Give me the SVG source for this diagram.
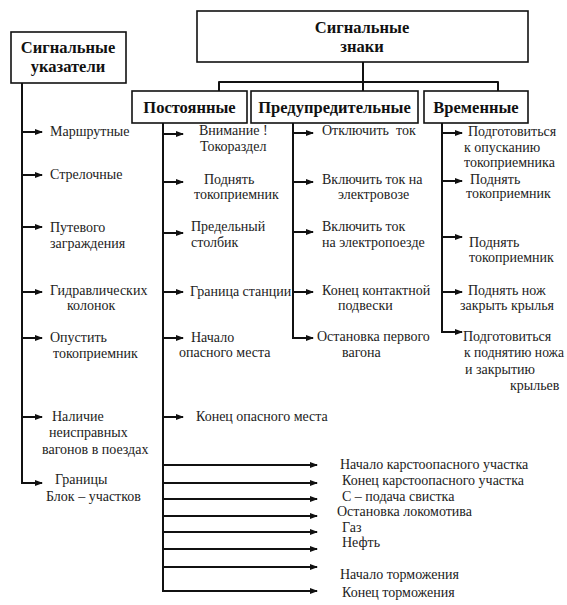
<svg xmlns="http://www.w3.org/2000/svg" width="567" height="605" viewBox="0 0 567 605" font-family="Liberation Serif, Times New Roman, serif">
<style>
.box{fill:#fff;stroke:#111;stroke-width:1.6}
.hd{font-size:16.5px;font-weight:bold;fill:#111;text-anchor:middle}
.t{font-size:14px;fill:#222}
.ln{fill:none;stroke:#111;stroke-width:2;stroke-linejoin:round}
.ar{fill:none;stroke:#111;stroke-width:2;marker-end:url(#ah)}
</style>
<defs>
<marker id="ah" viewBox="0 0 8 6" refX="7" refY="3" markerWidth="8" markerHeight="6" markerUnits="userSpaceOnUse" orient="auto">
<path d="M0,0 L8,3 L0,6 z" fill="#111"/>
</marker>
</defs>
<rect width="567" height="605" fill="#fff"/>

<g id="connectors">
<path class="ln" d="M363,62 V91"/>
<path class="ln" d="M219,91 V82 H498 V91"/>
<path class="ar" d="M22,83 V483 H42"/>
<path class="ar" d="M22,132 H42"/>
<path class="ar" d="M22,175 H42"/>
<path class="ar" d="M22,227 H42"/>
<path class="ar" d="M22,292 H42"/>
<path class="ar" d="M22,338 H42"/>
<path class="ar" d="M22,417 H42"/>
<path class="ar" d="M163,123 V591 H317"/>
<path class="ar" d="M163,134 H183"/>
<path class="ar" d="M163,182 H183"/>
<path class="ar" d="M163,233 H183"/>
<path class="ar" d="M163,292 H183"/>
<path class="ar" d="M163,338 H183"/>
<path class="ar" d="M163,417 H183"/>
<path class="ar" d="M163,465 H317"/>
<path class="ar" d="M163,483 H317"/>
<path class="ar" d="M163,499 H317"/>
<path class="ar" d="M163,516 H317"/>
<path class="ar" d="M163,532 H317"/>
<path class="ar" d="M163,549 H317"/>
<path class="ar" d="M163,567 H317"/>
<path class="ar" d="M293,123 V338 H313"/>
<path class="ar" d="M293,133 H313"/>
<path class="ar" d="M293,182 H313"/>
<path class="ar" d="M293,232 H313"/>
<path class="ar" d="M293,292 H313"/>
<path class="ar" d="M442,123 V332 H462"/>
<path class="ar" d="M442,133 H462"/>
<path class="ar" d="M442,181 H462"/>
<path class="ar" d="M442,237 H462"/>
<path class="ar" d="M442,292 H462"/>
</g>

<g id="node-znaki">
<rect class="box" x="197" y="11" width="331" height="51"/>
<text class="hd" x="362" y="33">Сигнальные</text>
<text class="hd" x="362" y="52">знаки</text>
</g>
<g id="node-ukazateli">
<rect class="box" x="11" y="32" width="115" height="51"/>
<text class="hd" x="68" y="53">Сигнальные</text>
<text class="hd" x="68" y="72">указатели</text>
</g>
<g id="node-postoyannye">
<rect class="box" x="132" y="91" width="115" height="32"/>
<text class="hd" x="189.5" y="113">Постоянные</text>
</g>
<g id="node-predupreditelnye">
<rect class="box" x="251" y="91" width="167" height="32"/>
<text class="hd" x="334.5" y="113">Предупредительные</text>
</g>
<g id="node-vremennye">
<rect class="box" x="424" y="91" width="104" height="32"/>
<text class="hd" x="476" y="113">Временные</text>
</g>

<g id="items-left">
<text class="t" x="50" y="136">Маршрутные</text>
<text class="t" x="50" y="179">Стрелочные</text>
<text class="t" x="50" y="232">Путевого</text>
<text class="t" x="50" y="248">заграждения</text>
<text class="t" x="50" y="295">Гидравлических</text>
<text class="t" x="67" y="310">колонок</text>
<text class="t" x="50" y="342">Опустить</text>
<text class="t" x="53" y="358">токоприемник</text>
<text class="t" x="52" y="421">Наличие</text>
<text class="t" x="49" y="437">неисправных</text>
<text class="t" x="42" y="454">вагонов в поездах</text>
<text class="t" x="55" y="484">Границы</text>
<text class="t" x="46" y="501">Блок – участков</text>
</g>

<g id="items-postoyannye">
<text class="t" x="199" y="135">Внимание !</text>
<text class="t" x="200" y="151">Токораздел</text>
<text class="t" x="204" y="184">Поднять</text>
<text class="t" x="194" y="199">токоприемник</text>
<text class="t" x="191" y="231">Предельный</text>
<text class="t" x="191" y="247">столбик</text>
<text class="t" x="190" y="296">Граница станции</text>
<text class="t" x="191" y="342">Начало</text>
<text class="t" x="179" y="357">опасного места</text>
<text class="t" x="196" y="421">Конец опасного места</text>
</g>

<g id="items-predupreditelnye">
<text class="t" x="322" y="135" xml:space="preserve">Отключить  ток</text>
<text class="t" x="322" y="184">Включить ток на</text>
<text class="t" x="338" y="199">электровозе</text>
<text class="t" x="322" y="231">Включить ток</text>
<text class="t" x="322" y="247">на электропоезде</text>
<text class="t" x="322" y="295">Конец контактной</text>
<text class="t" x="338" y="310">подвески</text>
<text class="t" x="317" y="341">Остановка первого</text>
<text class="t" x="342" y="357">вагона</text>
</g>

<g id="items-vremennye">
<text class="t" x="468" y="136">Подготовиться</text>
<text class="t" x="464" y="152">к опусканию</text>
<text class="t" x="464" y="167">токоприемника</text>
<text class="t" x="470" y="184">Поднять</text>
<text class="t" x="466" y="198">токоприемник</text>
<text class="t" x="469" y="247">Поднять</text>
<text class="t" x="469" y="262">токоприемник</text>
<text class="t" x="468" y="295">Поднять нож</text>
<text class="t" x="460" y="310">закрыть крылья</text>
<text class="t" x="463" y="341">Подготовиться</text>
<text class="t" x="464" y="357" textLength="100" lengthAdjust="spacingAndGlyphs">к поднятию ножа</text>
<text class="t" x="465" y="374">и закрытию</text>
<text class="t" x="510" y="390">крыльев</text>
</g>

<g id="items-bottom">
<text class="t" x="340" y="469">Начало карстоопасного участка</text>
<text class="t" x="342" y="485">Конец карстоопасного участка</text>
<text class="t" x="342" y="501">С – подача свистка</text>
<text class="t" x="337" y="516">Остановка локомотива</text>
<text class="t" x="342" y="532">Газ</text>
<text class="t" x="342" y="547">Нефть</text>
<text class="t" x="340" y="579">Начало торможения</text>
<text class="t" x="342" y="597">Конец торможения</text>
</g>
</svg>
